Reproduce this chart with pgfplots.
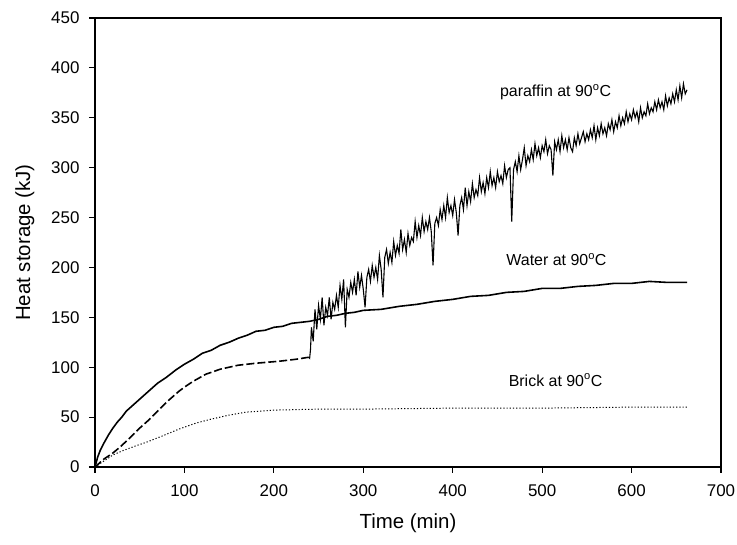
\documentclass[border=0pt]{standalone}
\usepackage{pgfplots}
\pgfplotsset{compat=1.18}
\usepackage{fontspec}
\setmainfont{Liberation Sans}
\begin{document}
\begin{tikzpicture}[x=1bp,y=1bp]
\path[use as bounding box] (-95,-78) rectangle (642,467);
\begin{axis}[
  at={(0,0)}, anchor=south west,
  scale only axis, width=626bp, height=449bp,
  xmin=0, xmax=700, ymin=0, ymax=450,
  xtick={0,100,...,700}, ytick={0,50,...,450},
  tick align=outside, xtick pos=left, ytick pos=left,
  major tick length=6bp,
  axis line style={line width=1.2pt}, tick style={line width=1.2pt, black},
  /pgf/number format/assume math mode=true,
  ticklabel style={font=\fontsize{17}{20}\selectfont},
  xticklabel style={yshift=-8bp},
  yticklabel style={xshift=-6bp},
  xlabel={Time (min)}, ylabel={Heat storage (kJ)},
  label style={font=\fontsize{20.5}{24}\selectfont},
  xlabel style={at={(axis description cs:0.5,-0.125)}, anchor=center},
  ylabel style={at={(axis description cs:-0.112,0.5)}, anchor=center},
  clip=false,
]
% Water (solid)
\addplot[black, line width=1.6pt] coordinates {
(0,0) (3,10) (6,17) (10,24) (15,32) (20,39) (25,45) (30,50) (35,56) (40,60) (45,64) (50,68)
(60,76) (70,84) (80,90) (90,97) (100,103) (110,108) (120,114) (130,117) (140,122) (150,125)
(160,129) (170,132) (180,136) (190,137) (200,140) (210,141) (220,144) (230,145) (240,146)
(250,148) (260,151) (270,152) (280,154) (290,155) (300,157) (320,158) (340,161) (360,163)
(380,166) (400,168) (420,171) (440,172) (460,175) (480,176) (500,179) (520,179) (540,181)
(560,182) (580,184) (600,184) (620,186) (640,185) (662,185)
};
% Paraffin (dashed part)
\addplot[black, line width=1.6pt, dash pattern=on 8bp off 3bp] coordinates {
(0,0) (10,8) (20,14) (28,20) (40,30) (50,39) (60,47) (70,56) (80,65) (94,76) (100,80)
(110,86) (124,93) (140,98) (160,102) (180,104) (206,106) (225,108) (239,110)
};
% Paraffin (noisy part)
\addplot[black, line width=1.1pt] coordinates {
(239,110) (240,109) (241,118) (242,140) (244,126) (246,158) (248,138) (250,162) (252,148)
(254,170) (256,142) (258,160) (260,152) (262,170) (264,148) (266,165) (268,158) (270,172)
(272,160) (274,182) (276,168) (278,188) (280,140) (282,178) (284,170) (286,185) (288,175)
(290,188) (292,172) (294,196) (296,180) (298,192) (300,178) (302,160) (304,190) (306,198)
(308,186) (310,202) (312,190) (314,200) (316,188) (318,212) (320,198) (322,170) (324,210)
(326,218) (328,204) (330,215) (332,205) (334,226) (336,212) (338,222) (340,214) (342,238)
(344,218) (346,228) (348,215) (350,234) (352,222) (354,230) (356,226) (358,246) (360,230)
(362,242) (364,232) (366,250) (368,236) (370,246) (372,238) (374,250) (376,236) (378,202)
(380,244) (382,250) (384,242) (386,258) (388,248) (390,262) (392,250) (394,270) (396,255)
(398,262) (400,252) (402,268) (404,255) (406,232) (408,262) (410,270) (412,258) (414,280)
(416,262) (418,276) (420,266) (422,284) (424,270) (426,278) (428,272) (430,290) (432,276)
(434,285) (436,274) (438,290) (440,280) (442,296) (444,282) (446,290) (448,280) (450,296)
(452,286) (454,292) (456,284) (458,302) (460,290) (462,298) (464,300) (466,246) (468,298)
(470,306) (472,296) (474,312) (476,298) (478,308) (480,320) (482,302) (484,312) (486,306)
(488,318) (490,308) (492,324) (494,312) (496,320) (498,310) (500,322) (502,316) (504,328)
(506,314) (508,322) (510,318) (512,292) (514,326) (516,318) (518,328) (520,316) (522,332)
(524,320) (526,328) (528,318) (530,330) (532,320) (534,316) (536,330) (538,322) (540,334)
(542,324) (544,330) (546,336) (548,326) (550,334) (552,328) (554,338) (556,330) (558,342)
(560,328) (562,340) (564,332) (566,344) (568,334) (570,340) (572,332) (574,344) (576,338)
(578,348) (580,336) (582,346) (584,340) (586,352) (588,342) (590,350) (592,344) (594,356)
(596,346) (598,354) (600,348) (602,358) (604,350) (606,356) (608,346) (610,360) (612,350)
(614,356) (616,352) (618,364) (620,354) (622,360) (624,356) (626,366) (628,358) (630,368)
(632,360) (634,366) (636,358) (638,372) (640,362) (642,370) (644,364) (646,374) (648,366)
(650,378) (652,368) (654,382) (656,370) (658,384) (660,374) (662,378)
};
% Brick (dotted)
\addplot[black, line width=1pt, dash pattern=on 1.2bp off 2bp] coordinates {
(0,0) (10,6) (20,12) (30,16) (45,21) (58,25) (75,31) (94,38) (113,44) (130,48) (150,52)
(169,55) (200,57) (250,58) (300,58) (400,59) (500,59) (600,60) (662,60)
};
\node[font=\fontsize{16}{19}\selectfont] at (axis cs:515,376) {paraffin at 90\textsuperscript{o}C};
\node[font=\fontsize{16}{19}\selectfont] at (axis cs:516,208) {Water at 90\textsuperscript{o}C};
\node[font=\fontsize{16}{19}\selectfont] at (axis cs:515,87) {Brick at 90\textsuperscript{o}C};
\end{axis}
\end{tikzpicture}
\end{document}
